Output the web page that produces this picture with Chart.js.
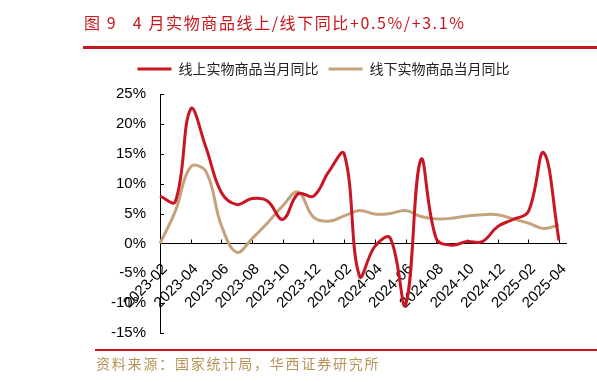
<!DOCTYPE html>
<html>
<head>
<meta charset="utf-8">
<script src="https://cdn.jsdelivr.net/npm/chart.js@4.4.1/dist/chart.umd.min.js"></script>
<style>
    body { margin: 0; background: #fff; }
    #wrap { position: relative; width: 597px; height: 382px; overflow: hidden; }
    #chart { position: absolute; left: 0; top: 0; }
    .title {
        position: absolute; left: 84px; top: 10px;
        font: 16px "Noto Sans CJK SC"; letter-spacing: 1.6px;
        color: #c8161e; white-space: pre;
    }
    .rule { position: absolute; background: #c8161e; }
    .source {
        position: absolute; left: 96px; top: 353px;
        font: 14px "Noto Sans CJK SC"; letter-spacing: 1.8px;
        color: #b8925a; white-space: pre;
    }
</style>
</head>
<body>
<div id="wrap">
    <canvas id="chart" width="597" height="382"></canvas>
    <div class="title">图 9   4 月实物商品线上/线下同比+0.5%/+3.1%</div>
    <div class="rule" style="left:83px; top:46px; width:514px; height:3px;"></div>
    <div class="rule" style="left:95px; top:349px; width:502px; height:2px;"></div>
    <div class="source">资料来源：国家统计局，华西证券研究所</div>
</div>
<script>
// monthly data, 2023-02 .. 2025-04
const months = [
    '2023-02', '2023-03', '2023-04', '2023-05', '2023-06', '2023-07', '2023-08',
    '2023-09', '2023-10', '2023-11', '2023-12', '2024-01', '2024-02', '2024-03',
    '2024-04', '2024-05', '2024-06', '2024-07', '2024-08', '2024-09', '2024-10',
    '2024-11', '2024-12', '2025-01', '2025-02', '2025-03', '2025-04'
];
const onlineYoY = [
    7.9, 7.0, 22.5, 16.0, 8.5, 6.5, 7.5,
    7.1, 4.0, 8.3, 7.9, 12.0, 15.0, -5.5,
    -0.5, 0.9, -10.3, 14.0, 0.8, -0.3, 0.3,
    0.3, 2.8, 4.0, 5.3, 15.2, 0.5
];
const offlineYoY = [
    0.0, 5.4, 12.8, 12.0, 3.0, -1.5, 0.8,
    3.4, 6.3, 8.6, 4.4, 3.7, 4.6, 5.5,
    4.9, 5.0, 5.5, 4.5, 4.1, 4.2, 4.6,
    4.8, 4.8, 4.1, 3.4, 2.5, 3.1
];
const seriesNames = ['线上实物商品当月同比', '线下实物商品当月同比'];
const yMin = -15, yMax = 25, yStep = 5;

const redColor = '#c81623';
const tanColor = '#c4a27c';

// leave a bit more room under the legend
const legendGap = {
    id: 'legendGap',
    afterInit(chart) {
        const legend = chart.legend;
        if (!legend) return;
        const fit = legend.fit;
        legend.fit = function () {
            fit.call(this);
            this.height += 8;
        };
    }
};

// small tick marks pointing into the plot, like the original
const innerTicks = {
    id: 'innerTicks',
    beforeDatasetsDraw(chart) {
        const { ctx, scales: { x, y }, chartArea } = chart;
        const y0 = Math.round(y.getPixelForValue(0)) + 0.5;
        ctx.save();
        ctx.strokeStyle = '#000';
        ctx.lineWidth = 1;
        ctx.beginPath();
        for (let i = 0; i < months.length; i += 2) {
            const px = Math.round(x.getPixelForValue(i)) + 0.5;
            ctx.moveTo(px, y0);
            ctx.lineTo(px, y0 - 4);
        }
        for (let v = yMin; v <= yMax; v += yStep) {
            const py = Math.round(y.getPixelForValue(v)) + 0.5;
            ctx.moveTo(chartArea.left, py);
            ctx.lineTo(chartArea.left + 4, py);
        }
        // axis runs a little past the last month
        ctx.moveTo(chartArea.right, y0);
        ctx.lineTo(chartArea.right + 8, y0);
        ctx.stroke();
        ctx.restore();
    }
};

new Chart(document.getElementById('chart'), {
    type: 'line',
    data: {
        labels: months,
        datasets: [{
            label: seriesNames[0],
            data: onlineYoY,
            borderColor: redColor,
            backgroundColor: redColor,
            borderWidth: 3,
            tension: 0.4,
            pointRadius: 0,
        }, {
            label: seriesNames[1],
            data: offlineYoY,
            borderColor: tanColor,
            backgroundColor: tanColor,
            borderWidth: 3,
            tension: 0.4,
            pointRadius: 0,
        }]
    },
    options: {
        responsive: false,
        animation: false,
        layout: { padding: { left: 88, right: 38, top: 52, bottom: 49 } },
        plugins: {
            legend: {
                display: true,
                position: 'top',
                labels: {
                    boxWidth: 34,
                    boxHeight: 3,
                    padding: 10,
                    color: '#222',
                    font: { size: 14, family: '"Noto Sans CJK SC"' },
                    generateLabels: (chart) =>
                        Chart.defaults.plugins.legend.labels.generateLabels(chart)
                            .map(item => ({ ...item, lineWidth: 0 }))
                }
            },
            tooltip: { enabled: false }
        },
        scales: {
            x: {
                position: { y: 0 },
                grid: { display: false },
                border: { color: '#000', width: 1 },
                ticks: {
                    autoSkip: false,
                    minRotation: 45,
                    maxRotation: 45,
                    padding: 9,
                    labelOffset: 5,
                    color: '#000',
                    font: { size: 15, family: '"Liberation Sans", Arial' },
                    callback: (v, i) => (i % 2 === 0 ? months[i] : null)
                }
            },
            y: {
                min: yMin,
                max: yMax,
                grid: { display: false },
                border: { color: '#000', width: 1 },
                afterFit: (scale) => { scale.width = 72; },
                ticks: {
                    stepSize: yStep,
                    padding: 6,
                    color: '#000',
                    font: { size: 15, family: '"Liberation Sans", Arial' },
                    callback: (v) => v + '%'
                }
            }
        }
    },
    plugins: [legendGap, innerTicks]
});
</script>
</body>
</html>
